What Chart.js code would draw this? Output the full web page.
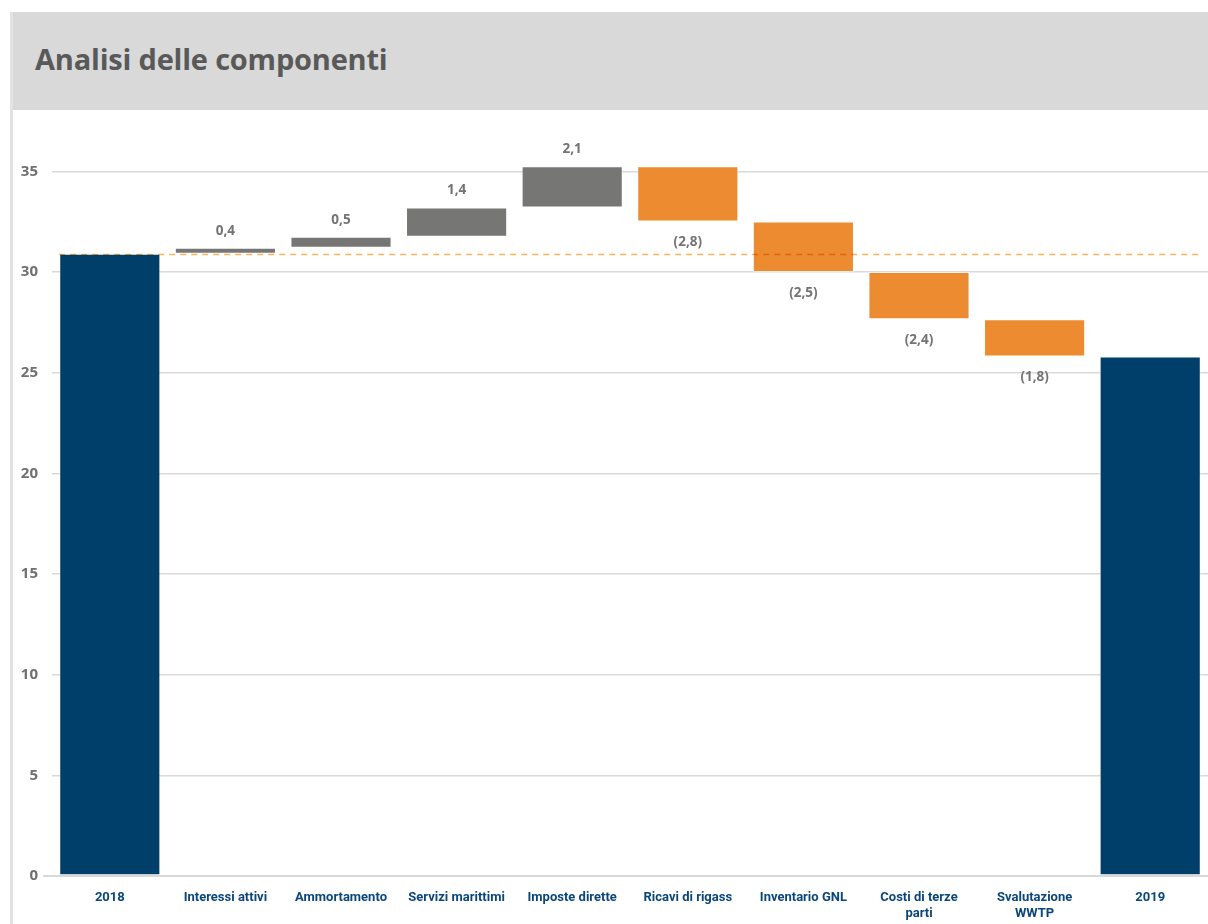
<!DOCTYPE html>
<html>
<head>
<meta charset="utf-8">
<script src="https://cdn.jsdelivr.net/npm/chart.js@4"></script>
<style>
  body { margin: 0; background: #fff; }
  #frame { position: absolute; left: 10px; top: 12px; width: 1198px; height: 912px; border-left: 3px solid #e2e2e2; box-sizing: border-box; }
  #header { height: 98px; background: #d9d9d9; }
  #header h1 { margin: 0; padding: 27px 0 0 22px; font: 700 29px "Open Sans", sans-serif; color: #595959; letter-spacing: -0.2px; }
  #wrap { position: absolute; left: 0; top: 98px; width: 1195px; height: 814px; }
</style>
</head>
<body>
<div id="frame">
  <div id="header"><h1>Analisi delle componenti</h1></div>
  <div id="wrap"><canvas id="chart"></canvas></div>
</div>
<script>
const categories = ['2018', 'Interessi attivi', 'Ammortamento', 'Servizi marittimi', 'Imposte dirette',
  'Ricavi di rigass', 'Inventario GNL', ['Costi di terze', 'parti'], ['Svalutazione', 'WWTP'], '2019']
// running totals as drawn (start value, then level after each step)
const levels = [30.9, 31.2, 31.75, 33.2, 35.25, 32.5, 30.0, 27.65, 25.8]
// printed changes
const changes = [0.4, 0.5, 1.4, 2.1, -2.8, -2.5, -2.4, -1.8]
const yTicks = [0, 5, 10, 15, 20, 25, 30, 35]

const navy = '#003f6a', gray = '#767675', orange = '#ec8b2f'

// build floating bars from the levels
const bars = [[0, levels[0]]]
const colors = [navy]
for (let i = 1; i < levels.length; i++) {
    bars.push([levels[i - 1], levels[i]])
    colors.push(levels[i] >= levels[i - 1] ? gray : orange)
}
bars.push([0, levels[levels.length - 1]])
colors.push(navy)

const fmt = v => {
    const s = Math.abs(v).toFixed(1).replace('.', ',')
    return v < 0 ? `(${s})` : s
}

const extras = {
    id: 'extras',
    afterDatasetsDraw(chart) {
        const {ctx, chartArea, scales: {y}} = chart
        const meta = chart.getDatasetMeta(0)
        // zero line reaching under the tick labels
        const y0 = Math.round(y.getPixelForValue(0))
        ctx.save()
        ctx.strokeStyle = '#d9d9d9'
        ctx.lineWidth = 2
        ctx.beginPath()
        ctx.moveTo(chartArea.left - 9, y0)
        ctx.lineTo(chartArea.right, y0)
        ctx.stroke()
        ctx.restore()
        // dashed reference line at the starting level
        const yy = Math.round(y.getPixelForValue(levels[0])) + 0.5
        const first = meta.data[0]
        ctx.save()
        ctx.globalCompositeOperation = 'multiply'
        ctx.strokeStyle = '#f7b25c'
        ctx.lineWidth = 1.5
        ctx.setLineDash([6, 5])
        ctx.beginPath()
        ctx.moveTo(first.x - first.width / 2, yy)
        ctx.lineTo(chartArea.right - 6, yy)
        ctx.stroke()
        ctx.restore()
        // value labels on the steps
        ctx.save()
        ctx.font = 'bold 13.5px "Open Sans", sans-serif'
        ctx.fillStyle = '#737373'
        ctx.textAlign = 'center'
        ctx.textBaseline = 'middle'
        changes.forEach((c, i) => {
            const bar = meta.data[i + 1]
            const top = Math.min(bar.y, bar.base), bottom = Math.max(bar.y, bar.base)
            ctx.fillText(fmt(c), bar.x, c >= 0 ? top - 17 : bottom + 21)
        })
        ctx.restore()
    }
}

new Chart(document.getElementById('chart'), {
    type: 'bar',
    data: {
        labels: categories,
        datasets: [{
            data: bars,
            backgroundColor: colors,
            borderColor: 'rgba(255,255,255,0.45)',
            borderWidth: 1,
            borderSkipped: false,
            barPercentage: 0.875,
            categoryPercentage: 1
        }]
    },
    options: {
        responsive: true,
        maintainAspectRatio: false,
        animation: false,
        layout: { padding: { top: 2, right: 0, left: 0, bottom: 0 } },
        plugins: { legend: { display: false }, tooltip: { enabled: false } },
        scales: {
            x: {
                grid: { display: false },
                border: { display: false },
                ticks: {
                    color: '#0a4679',
                    font: { family: '"Liberation Sans Narrow", "Roboto", sans-serif', weight: 'bold', size: 13 },
                    maxRotation: 0,
                    autoSkip: false,
                    padding: 6
                },
                afterFit: s => { s.height = 48 }
            },
            y: {
                min: 0,
                max: 36.9,
                afterBuildTicks: s => { s.ticks = yTicks.map(v => ({ value: v })) },
                grid: { color: '#d9d9d9', lineWidth: 1.5, drawTicks: false },
                border: { display: false },
                ticks: {
                    color: '#707070',
                    font: { family: '"Open Sans", sans-serif', weight: 'bold', size: 15 },
                    padding: 14
                },
                afterFit: s => { s.width = 39 }
            }
        }
    },
    plugins: [extras]
})
</script>
</body>
</html>
